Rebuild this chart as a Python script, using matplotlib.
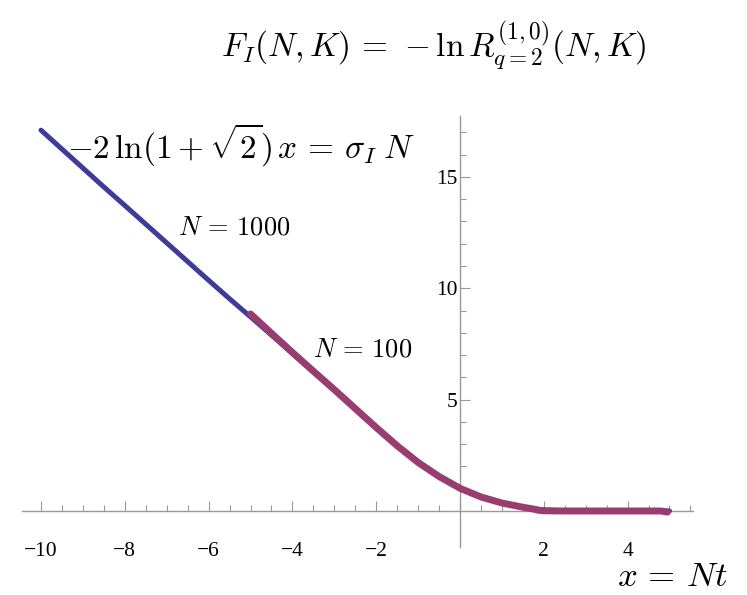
import matplotlib
matplotlib.use("Agg")
import matplotlib.pyplot as plt
from matplotlib.ticker import MultipleLocator, FixedLocator

plt.rcParams['mathtext.fontset'] = 'cm'
plt.rcParams['font.family'] = ['Liberation Serif', 'DejaVu Serif']

# N = 1000 series (blue)
x_n1000 = [-10.0, -9.5, -9.0, -8.5, -8.0, -7.5, -7.0, -6.5, -6.0, -5.5, -5.0,
           -4.5, -4.0, -3.5, -3.0, -2.5, -2.0, -1.5, -1.0, -0.5, 0.0, 0.5,
           1.0, 1.5, 2.0, 2.5, 3.0, 3.5, 4.0, 4.5, 5.0]
y_n1000 = [17.1, 16.25, 15.4, 14.55, 13.72, 12.88, 12.04, 11.2, 10.36, 9.53, 8.72,
           7.9, 7.08, 6.26, 5.45, 4.6, 3.75, 2.93, 2.18, 1.55, 1.02, 0.63,
           0.36, 0.17, 0.05, 0.01, 0.0, 0.0, 0.0, 0.0, 0.0]

# N = 100 series (purple)
x_n100 = [-5.0, -4.5, -4.0, -3.5, -3.0, -2.5, -2.0, -1.5, -1.0, -0.5, 0.0,
          0.5, 1.0, 1.5, 1.75, 1.85, 2.0, 2.5, 3.0, 3.5, 4.0, 4.5, 4.8, 4.95]
y_n100 = [8.85, 7.98, 7.12, 6.28, 5.45, 4.6, 3.75, 2.93, 2.18, 1.55, 1.02,
          0.63, 0.36, 0.17, 0.09, 0.04, 0.01, 0.0, 0.0, 0.0, 0.0, 0.0, 0.0, -0.05]

x_major = [-10, -8, -6, -4, -2, 2, 4]
x_labels = ['\u221210', '\u22128', '\u22126', '\u22124', '\u22122', '2', '4']
y_major = [5, 10, 15]
y_labels = ['5', '10', '15']

W, H = 747, 595
fig = plt.figure(figsize=(W / 100, H / 100), dpi=100)

# data -> pixel mapping: px = 460 + 41.9*x ; py = 511 - 22.27*y
xmin, xmax = -10.45, 5.55
ymin, ymax = -1.6, 17.75
left_px = 460 + 41.9 * xmin
right_px = 460 + 41.9 * xmax
bottom_py = 511 - 22.27 * ymin
top_py = 511 - 22.27 * ymax
ax = fig.add_axes([left_px / W, 1 - bottom_py / H,
                   (right_px - left_px) / W, (bottom_py - top_py) / H])
ax.set_xlim(xmin, xmax)
ax.set_ylim(ymin, ymax)

blue = '#3d3d99'
purple = '#993d71'
ax.plot(x_n1000, y_n1000, color=blue, lw=3.6, solid_capstyle='round',
        solid_joinstyle='round', zorder=3)
ax.plot(x_n100, y_n100, color=purple, lw=5.0, solid_capstyle='round',
        solid_joinstyle='round', zorder=4)

for s in ['top', 'right']:
    ax.spines[s].set_visible(False)
ax.spines['left'].set_position(('data', 0))
ax.spines['bottom'].set_position(('data', 0))
for s in ['left', 'bottom']:
    ax.spines[s].set_color('#999999')
    ax.spines[s].set_linewidth(1.0)

ax.xaxis.set_major_locator(FixedLocator(x_major))
ax.set_xticklabels(x_labels)
ax.xaxis.set_minor_locator(MultipleLocator(0.5))
ax.yaxis.set_major_locator(FixedLocator(y_major))
ax.set_yticklabels(y_labels)
ax.yaxis.set_minor_locator(FixedLocator([v for v in range(1, 18) if v % 5 != 0]))

ax.tick_params(axis='x', which='major', direction='in', length=7, width=0.8,
               color='#999999', labelsize=15.5, pad=22)
ax.tick_params(axis='x', which='minor', direction='in', length=4, width=0.8,
               color='#999999')
ax.tick_params(axis='y', which='major', direction='in', length=7, width=0.8,
               color='#999999', labelsize=15.5, pad=2)
ax.tick_params(axis='y', which='minor', direction='in', length=4.5, width=0.8,
               color='#999999')
for lab in ax.get_yticklabels():
    lab.set_horizontalalignment('right')

fig.text(434 / W, 1 - 45 / H,
         r'$F_I(N,K)\,=\,-\ln R^{(1,0)}_{q=2}(N,K)$',
         ha='center', va='center', fontsize=24)
fig.text(67 / W, 1 - 145 / H, r'$-2\,\ln(1+\sqrt{2})\,x\,=\,\sigma_I\;N$',
         ha='left', va='center', fontsize=24)
fig.text(178 / W, 1 - 228 / H, r'$N\,=\,1000$', ha='left', va='center', fontsize=19)
fig.text(313 / W, 1 - 350 / H, r'$N\,=\,100$', ha='left', va='center', fontsize=19)
fig.text(728 / W, 1 - 577 / H, r'$x\,=\,Nt$', ha='right', va='center', fontsize=25)

fig.savefig('out.png', dpi=100)
